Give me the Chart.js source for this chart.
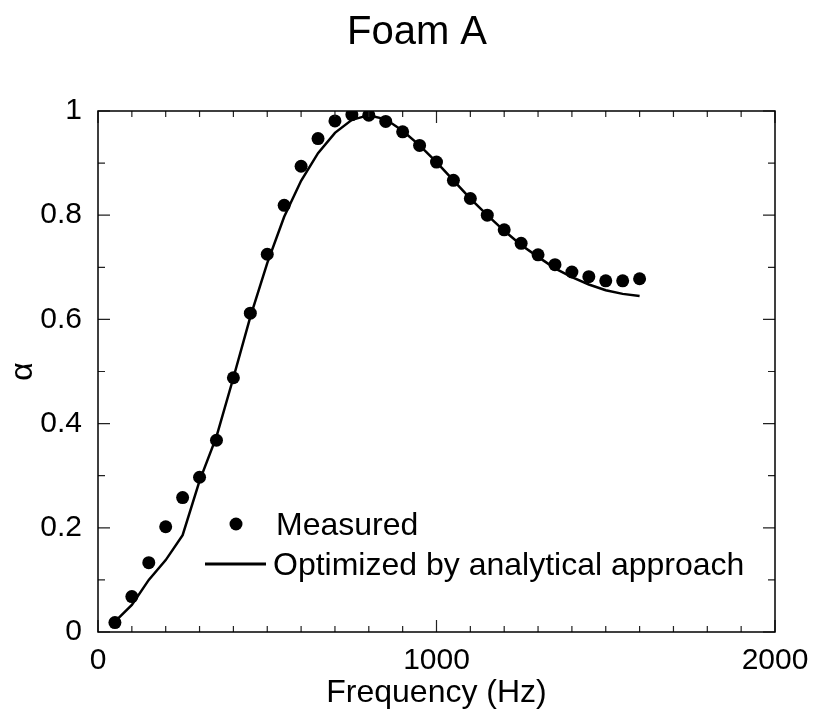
<!DOCTYPE html>
<html>
<head>
<meta charset="utf-8">
<script src="https://cdn.jsdelivr.net/npm/chart.js@4.4.1/dist/chart.umd.min.js"></script>
<style>
    html, body { margin: 0; padding: 0; background: #fff; }
    #wrap { width: 815px; height: 713px; }
</style>
</head>
<body>
<div id="wrap"><canvas id="chart"></canvas></div>
<script>
// frequencies (Hz)
const freqs = [50, 100, 150, 200, 250, 300, 350, 400, 450, 500, 550, 600, 650, 700, 750, 800,
    850, 900, 950, 1000, 1050, 1100, 1150, 1200, 1250, 1300, 1350, 1400, 1450, 1500, 1550, 1600];

// absorption coefficient, measured
const measured = [0.018, 0.068, 0.133, 0.202, 0.258, 0.297, 0.368, 0.488, 0.612, 0.725, 0.819, 0.894,
    0.947, 0.981, 0.993, 0.992, 0.980, 0.960, 0.934, 0.902, 0.867, 0.832, 0.800, 0.772,
    0.746, 0.724, 0.705, 0.691, 0.682, 0.674, 0.674, 0.678];

// absorption coefficient, analytical fit
const optimized = [0.020, 0.052, 0.100, 0.138, 0.186, 0.290, 0.375, 0.488, 0.605, 0.708, 0.797, 0.866,
    0.919, 0.958, 0.983, 0.992, 0.984, 0.962, 0.934, 0.902, 0.867, 0.832, 0.800, 0.770,
    0.743, 0.720, 0.698, 0.681, 0.667, 0.656, 0.649, 0.645];

const xLabels = [0, 1000, 2000];
const yLabels = [0, 0.2, 0.4, 0.6, 0.8, 1];

const FONT = "'Liberation Sans', Arial, sans-serif";

//==== box and inward ticks ====//
const frameTicks = {
    id: 'frameTicks',
    afterDraw(c) {
        const {ctx, chartArea: a, scales: {x, y}} = c;
        ctx.save();
        ctx.strokeStyle = '#222';
        ctx.lineWidth = 1.2;
        ctx.beginPath();
        x.ticks.forEach(t => {
            const px = x.getPixelForValue(t.value);
            const len = xLabels.includes(t.value) ? 12 : 6;
            ctx.moveTo(px, a.bottom); ctx.lineTo(px, a.bottom - len);
            ctx.moveTo(px, a.top); ctx.lineTo(px, a.top + len);
        });
        y.ticks.forEach(t => {
            const py = y.getPixelForValue(t.value);
            const major = yLabels.some(v => Math.abs(v - t.value) < 1e-6);
            const len = major ? 12 : 7;
            ctx.moveTo(a.left, py); ctx.lineTo(a.left + len, py);
            ctx.moveTo(a.right, py); ctx.lineTo(a.right - len, py);
        });
        ctx.stroke();
        ctx.strokeStyle = '#000';
        ctx.lineWidth = 1.5;
        ctx.strokeRect(a.left, a.top, a.right - a.left, a.bottom - a.top);
        ctx.restore();
    }
};

//==== legend inside the plot ====//
const innerLegend = {
    id: 'innerLegend',
    afterDraw(c) {
        const {ctx, chartArea: a} = c;
        const ds = c.data.datasets;
        const x0 = a.left + 107;
        ctx.save();
        ctx.font = '32px ' + FONT;
        ctx.textBaseline = 'middle';
        // measured
        ctx.beginPath();
        ctx.arc(x0 + 31, 524, ds[0].pointRadius, 0, Math.PI * 2);
        ctx.fillStyle = ds[0].backgroundColor;
        ctx.fill();
        ctx.fillStyle = '#000';
        ctx.fillText(ds[0].label, x0 + 71, 526);
        // optimized
        ctx.beginPath();
        ctx.moveTo(x0, 564);
        ctx.lineTo(x0 + 61, 564);
        ctx.strokeStyle = ds[1].borderColor;
        ctx.lineWidth = 3;
        ctx.stroke();
        ctx.fillText(ds[1].label, x0 + 68, 566);
        ctx.restore();
    }
};

const chart = document.querySelector('#chart').getContext('2d');

new Chart(chart, {
    type: 'scatter',
    data: {
        datasets: [
            {
                label: 'Measured',
                data: freqs.map((f, i) => ({x: f, y: measured[i]})),
                backgroundColor: '#000',
                borderWidth: 0,
                pointRadius: 6.5,
                showLine: false
            },
            {
                label: 'Optimized by analytical approach',
                data: freqs.map((f, i) => ({x: f, y: optimized[i]})),
                borderColor: '#000',
                borderWidth: 2.5,
                pointRadius: 0,
                showLine: true,
                tension: 0
            }
        ]
    },
    options: {
        responsive: true,
        maintainAspectRatio: false,
        animation: false,
        layout: { padding: { left: 19, right: 0, top: 0, bottom: 0 } },
        plugins: {
            legend: { display: false },
            tooltip: { enabled: false },
            title: {
                display: true,
                text: 'Foam A',
                color: '#000',
                font: { family: FONT, size: 40, weight: 'normal', lineHeight: 1.2 },
                padding: { top: 9, bottom: 54 }
            }
        },
        scales: {
            x: {
                type: 'linear',
                min: 0,
                max: 2000,
                grid: { display: false },
                border: { display: false },
                ticks: {
                    stepSize: 100,
                    autoSkip: false,
                    maxRotation: 0,
                    padding: 3,
                    color: '#000',
                    font: { family: FONT, size: 30 },
                    callback: v => xLabels.includes(v) ? String(v) : ''
                },
                title: {
                    display: true,
                    text: 'Frequency (Hz)',
                    color: '#000',
                    font: { family: FONT, size: 32, lineHeight: 1.2 },
                    padding: { top: 0, bottom: 1 }
                },
                afterFit: s => { s.height = 81; }
            },
            y: {
                min: 0,
                max: 1,
                grid: { display: false },
                border: { display: false },
                ticks: {
                    stepSize: 0.1,
                    autoSkip: false,
                    padding: 8,
                    color: '#000',
                    font: { family: FONT, size: 30 },
                    callback: v => {
                        const hit = yLabels.find(l => Math.abs(l - v) < 1e-6);
                        return hit === undefined ? '' : String(hit);
                    }
                },
                title: {
                    display: true,
                    text: 'α',
                    color: '#000',
                    font: { family: FONT, size: 32, lineHeight: 1.2 },
                    padding: { top: -15, bottom: 0 }
                },
                afterFit: s => { s.width = 79; }
            },
            // empty right-hand axis, only keeps the margin on the right
            yRight: {
                position: 'right',
                min: 0,
                max: 1,
                grid: { display: false },
                border: { display: false },
                ticks: { display: false },
                afterFit: s => { s.width = 40; }
            }
        }
    },
    plugins: [frameTicks, innerLegend]
});
</script>
</body>
</html>
